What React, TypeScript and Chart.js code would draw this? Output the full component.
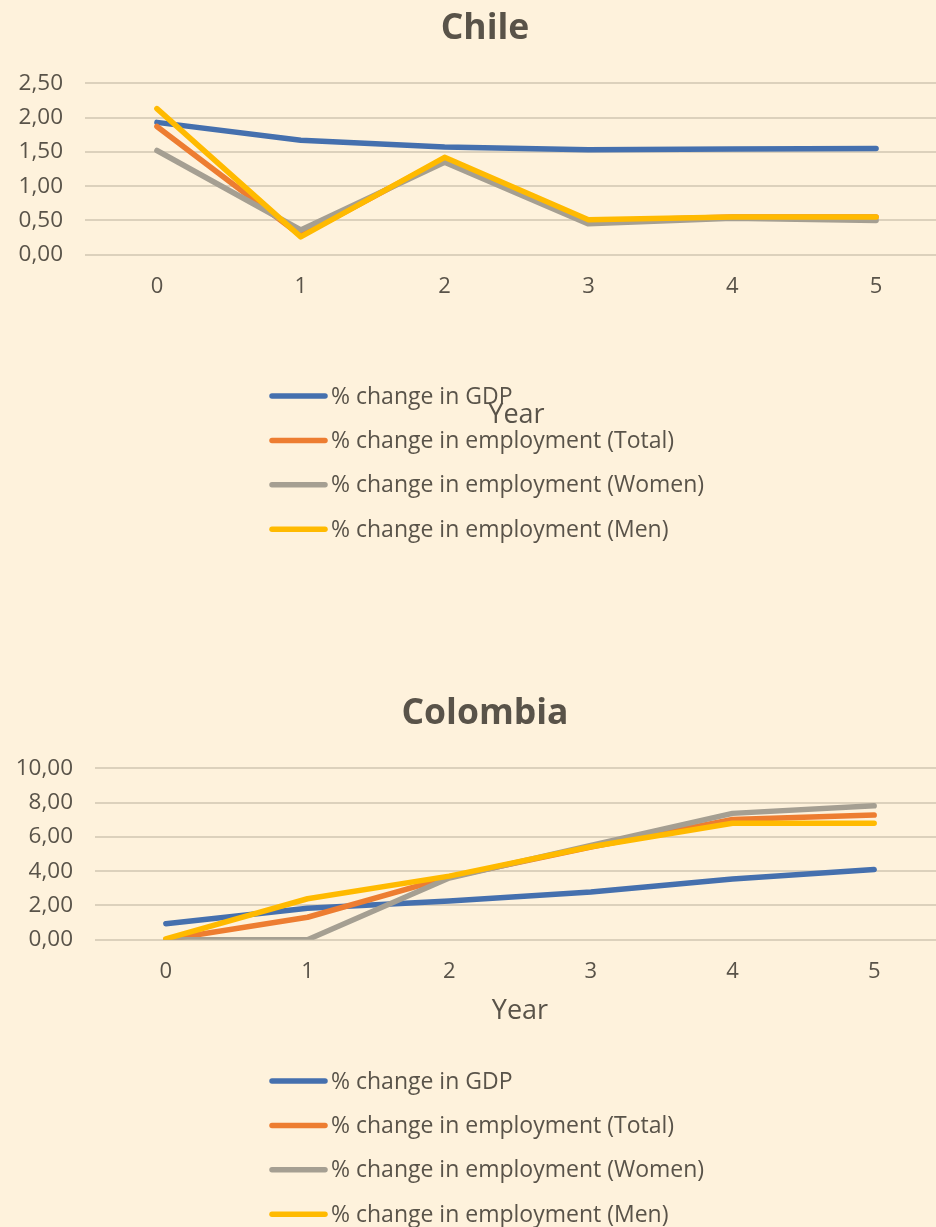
import React, { useEffect, useRef } from "react";
import { Chart, registerables } from "chart.js";

Chart.register(...registerables);

// ---- Data ----
const years = ["0", "1", "2", "3", "4", "5"];
const seriesLabels = [
  "% change in GDP",
  "% change in employment (Total)",
  "% change in employment (Women)",
  "% change in employment (Men)",
];
const seriesColors = ["#4570AE", "#ED7D31", "#A59F92", "#FFBA00"];

const chileGDP = [1.93, 1.67, 1.57, 1.53, 1.54, 1.55];
const chileTotal = [1.87, 0.28, 1.40, 0.49, 0.55, 0.55];
const chileWomen = [1.52, 0.36, 1.35, 0.45, 0.53, 0.50];
const chileMen = [2.13, 0.26, 1.42, 0.51, 0.55, 0.55];

const colombiaGDP = [0.93, 1.83, 2.26, 2.78, 3.54, 4.1];
const colombiaTotal = [0.0, 1.31, 3.65, 5.4, 7.02, 7.27];
const colombiaWomen = [0.0, 0.0, 3.6, 5.5, 7.37, 7.81];
const colombiaMen = [0.05, 2.39, 3.71, 5.42, 6.79, 6.79];

const chileTicks = { min: 0, max: 2.5, step: 0.5 };
const colombiaTicks = { min: 0, max: 10, step: 2 };

const TEXT = "#595349";
const BG = "#FEF2DC";
const GRID = "#DCD1BC";
const FONT = "'Open Sans', sans-serif";

const CANVAS_W = 960;
const CANVAS_H = 685;

const titleLegendPlugin = {
  id: "titleLegend",
  afterDraw(chart: any) {
    const ctx = chart.ctx;
    ctx.save();
    // title
    const t = chart.options.plugins.customTitle;
    ctx.fillStyle = TEXT;
    ctx.font = `bold 35.5px ${FONT}`;
    ctx.textAlign = "center";
    ctx.textBaseline = "middle";
    ctx.fillText(t.text, 485, 29);
    // legend
    chart.data.datasets.forEach((ds: any, i: number) => {
      const y = 396 + i * 44.4;
      ctx.strokeStyle = ds.borderColor;
      ctx.lineWidth = 5.5;
      ctx.lineCap = "round";
      ctx.beginPath();
      ctx.moveTo(272, y);
      ctx.lineTo(325, y);
      ctx.stroke();
      ctx.fillStyle = TEXT;
      ctx.font = `23px ${FONT}`;
      ctx.textBaseline = "middle";
      ctx.textAlign = "left";
      ctx.fillText(ds.label, 331, y + 1);
    });
    ctx.restore();
  },
};

interface Props {
  title: string;
  data: number[][];
  ticks: { min: number; max: number; step: number };
  areaLeft: number;
  padR: number;
  xHeight: number;
}

function LineChart({ title, data, ticks, areaLeft, padR, xHeight }: Props) {
  const ref = useRef<HTMLCanvasElement>(null);
  useEffect(() => {
    if (!ref.current) return;
    const areaTop = 83.3;
    const areaBottom = 254.7;
    const padBottom = CANVAS_H - areaBottom - xHeight;
    const order = [4, 3, 2, 1];
    const chart = new Chart(ref.current, {
      type: "line",
      data: {
        labels: years,
        datasets: data.map((d, i) => ({
          label: seriesLabels[i],
          data: d,
          borderColor: seriesColors[i],
          backgroundColor: seriesColors[i],
          borderWidth: 5.5,
          borderCapStyle: "round",
          borderJoinStyle: "round",
          pointRadius: 0,
          tension: 0,
          order: order[i],
        })),
      },
      options: {
        animation: false,
        responsive: false,
        maintainAspectRatio: false,
        layout: { padding: { left: 0, right: padR, top: areaTop, bottom: padBottom } },
        plugins: {
          legend: { display: false },
          tooltip: { enabled: false },
          title: { display: false },
          customTitle: { text: title },
        } as any,
        scales: {
          x: {
            type: "category",
            offset: true,
            grid: { display: false, drawTicks: false },
            border: { display: false },
            ticks: {
              color: TEXT,
              font: { family: FONT, size: 22, lineHeight: 1.2 },
              padding: 19,
              maxRotation: 0,
              autoSkip: false,
            },
            title: {
              display: true,
              text: "Year",
              color: TEXT,
              font: { family: FONT, size: 27, lineHeight: 1.2 },
              padding: 0,
            },
            afterFit: (scale: any) => {
              scale.height = xHeight;
            },
          },
          y: {
            min: ticks.min,
            max: ticks.max,
            grid: { color: GRID, lineWidth: 2, drawTicks: false },
            border: { display: false },
            ticks: {
              stepSize: ticks.step,
              color: TEXT,
              font: { family: FONT, size: 22.5 },
              padding: 22,
              callback: (v: any) => Number(v).toFixed(2).replace(".", ","),
            },
            afterFit: (scale: any) => {
              scale.width = areaLeft;
            },
          },
        },
      },
      plugins: [titleLegendPlugin],
    });
    return () => chart.destroy();
  }, []);
  return (
    <div style={{ width: CANVAS_W, height: CANVAS_H }}>
      <canvas ref={ref} width={CANVAS_W} height={CANVAS_H} style={{ display: "block" }} />
    </div>
  );
}

export default function App() {
  return (
    <div
      style={{
        position: "absolute",
        left: 0,
        top: 0,
        width: 936,
        height: 1227,
        overflow: "hidden",
        background: BG,
      }}
    >
      <LineChart
        title="Chile"
        data={[chileGDP, chileTotal, chileWomen, chileMen]}
        ticks={chileTicks}
        areaLeft={85}
        padR={12}
        xHeight={176.5}
      />
      <LineChart
        title="Colombia"
        data={[colombiaGDP, colombiaTotal, colombiaWomen, colombiaMen]}
        ticks={colombiaTicks}
        areaLeft={95}
        padR={15}
        xHeight={87.5}
      />
    </div>
  );
}
